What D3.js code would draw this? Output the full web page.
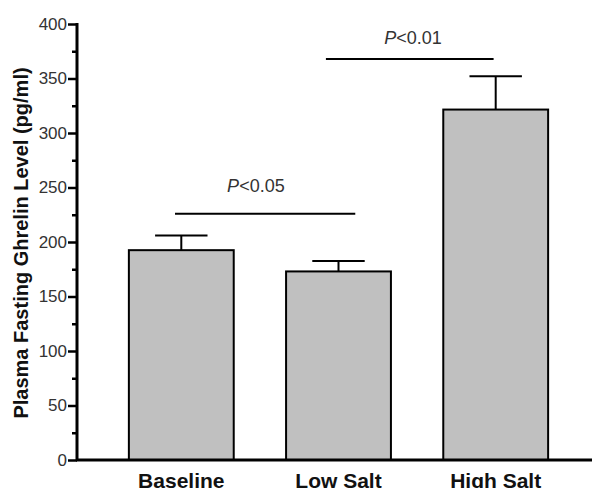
<!DOCTYPE html>
<html>
<head>
<meta charset="utf-8">
<script src="https://cdn.jsdelivr.net/npm/d3@7"></script>
<style>
  body { margin: 0; background: #fff; }
  text { font-family: "Liberation Sans", Arial, sans-serif; }
</style>
</head>
<body>
<div id="viz"></div>
<script>
var categories = ["Baseline", "Low Salt", "High Salt"];
var means = [192.5, 173, 321.5];
var errors = [13.5, 9.5, 30.5];
var yTicks = [0, 50, 100, 150, 200, 250, 300, 350, 400];
var yMinorTicks = [25, 75, 125, 175, 225, 275, 325, 375];

// significance brackets
var sigFrom = ["Baseline", "Low Salt"];
var sigTo = ["Low Salt", "High Salt"];
var sigLevel = [226, 368];
var sigText = ["0.05", "0.01"];
var sigTextAt = [246, 381.5];

var W = 592, H = 488,
  margin = { top: 24, right: 0, bottom: 28, left: 77 },
  height = H - margin.top - margin.bottom;

var svg = d3.select('#viz').append('svg')
  .attr('width', W)
  .attr('height', H);

var yScale = d3.scaleLinear()
  .domain([0, 400])
  .range([margin.top + height, margin.top]);

var xScale = d3.scaleBand()
  .domain(categories)
  .range([margin.left, 600])
  .paddingInner(0.333)
  .paddingOuter(0.33);

var bw = xScale.bandwidth();

// bars
svg.append('g').selectAll('rect').data(means)
  .enter().append('rect')
  .attr('x', function(d, i) { return xScale(categories[i]); })
  .attr('y', function(d) { return yScale(d); })
  .attr('width', bw)
  .attr('height', function(d) { return yScale(0) - yScale(d); })
  .attr('fill', '#c0c0c0')
  .attr('stroke', '#000')
  .attr('stroke-width', 2);

// error bars (upper only)
var eb = svg.append('g').attr('stroke', '#000').attr('stroke-width', 2);
means.forEach(function(m, i) {
  var cx = xScale(categories[i]) + bw / 2;
  eb.append('line')
    .attr('x1', cx).attr('x2', cx)
    .attr('y1', yScale(m)).attr('y2', yScale(m + errors[i]));
  eb.append('line')
    .attr('x1', cx - bw / 4).attr('x2', cx + bw / 4)
    .attr('y1', yScale(m + errors[i])).attr('y2', yScale(m + errors[i]));
});

// y axis
var yAxis = d3.axisLeft(yScale)
  .tickValues(yTicks)
  .tickSize(9)
  .tickPadding(1)
  .tickSizeOuter(0);

var yGuide = svg.append('g')
  .attr('transform', 'translate(' + margin.left + ',0)')
  .call(yAxis);
yGuide.selectAll('.tick line').attr('stroke-width', 2.5);
yGuide.selectAll('.tick text')
  .style('font-size', '17px')
  .attr('fill', '#333');
yGuide.select('.domain').remove();

svg.append('g')
  .attr('transform', 'translate(' + margin.left + ',0)')
  .call(d3.axisLeft(yScale).tickValues(yMinorTicks).tickSize(5).tickFormat('').tickSizeOuter(0))
  .call(function(g) {
    g.select('.domain').remove();
    g.selectAll('.tick line').attr('stroke-width', 2.5);
  });

svg.append('line')
  .attr('x1', margin.left).attr('x2', margin.left)
  .attr('y1', yScale(400) - 1).attr('y2', yScale(0) + 1)
  .attr('stroke', '#000').attr('stroke-width', 3);

// x axis
var xGuide = svg.append('g')
  .attr('transform', 'translate(0,' + yScale(0) + ')')
  .call(d3.axisBottom(xScale).tickSize(0).tickSizeOuter(0).tickPadding(28));
xGuide.select('.domain').attr('stroke-width', 3)
  .attr('d', 'M' + (margin.left - 1) + ',0H' + W);
xGuide.selectAll('.tick text')
  .style('font-size', '21px')
  .style('font-weight', 'bold')
  .attr('fill', '#111')
  .attr('dy', 0);

// y title
svg.append('text')
  .attr('transform', 'translate(28,' + (margin.top + height / 2 + 1) + ') rotate(-90)')
  .attr('text-anchor', 'middle')
  .style('font-size', '20px')
  .style('font-weight', 'bold')
  .attr('fill', '#111')
  .text('Plasma Fasting Ghrelin Level (pg/ml)');

// significance
var fracStart = [0.44, 0.38], fracEnd = [0.66, 0.48];
sigLevel.forEach(function(v, i) {
  var x1 = xScale(sigFrom[i]) + bw * fracStart[i],
    x2 = xScale(sigTo[i]) + bw * fracEnd[i];
  svg.append('line')
    .attr('x1', x1).attr('x2', x2)
    .attr('y1', yScale(v)).attr('y2', yScale(v))
    .attr('stroke', '#000').attr('stroke-width', 2);
  var tx = (xScale(sigFrom[i]) + xScale(sigTo[i])) / 2 + bw / 2 - 4;
  var t = svg.append('text')
    .attr('x', tx)
    .attr('y', yScale(sigTextAt[i]))
    .attr('text-anchor', 'middle')
    .style('font-size', '18px')
    .attr('fill', '#333');
  t.append('tspan').style('font-style', 'italic').text('P');
  t.append('tspan').text('<' + sigText[i]);
});
</script>
</body>
</html>
